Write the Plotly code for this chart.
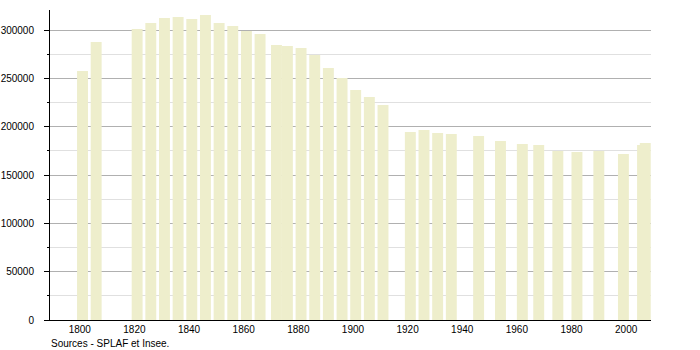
import plotly.graph_objects as go

years = [1801, 1806, 1821, 1826, 1831, 1836, 1841, 1846, 1851, 1856, 1861, 1866,
         1872, 1876, 1881, 1886, 1891, 1896, 1901, 1906, 1911, 1921, 1926, 1931,
         1936, 1946, 1954, 1962, 1968, 1975, 1982, 1990, 1999, 2006, 2007]
population = [257600, 287600, 301000, 307200, 312400, 313400, 311400, 315500,
              307200, 304100, 299000, 295900, 284500, 283500, 281400, 274100,
              260700, 250300, 237900, 230700, 222400, 194500, 196600, 193500,
              192400, 190300, 185200, 182100, 181000, 174800, 173800, 174800,
              171700, 181000, 183100]
x_ticks = [1800, 1820, 1840, 1860, 1880, 1900, 1920, 1940, 1960, 1980, 2000]
source_text = "Sources - SPLAF et Insee."

FONT = "Liberation Sans, Arial, sans-serif"

fig = go.Figure()
fig.add_trace(go.Bar(
    x=years, y=population, width=[4] * len(years),
    marker=dict(color="rgb(238,238,204)", line=dict(width=0)),
    hoverinfo="x+y", showlegend=False,
))

fig.update_layout(
    width=700, height=350,
    margin=dict(l=50, r=49, t=10, b=30, autoexpand=False),
    paper_bgcolor="white", plot_bgcolor="white",
    barmode="overlay",
    font=dict(family=FONT, size=10, color="black"),
    xaxis=dict(
        range=[1789.1, 2009.1], tickvals=x_ticks, ticktext=[str(v) for v in x_ticks],
        automargin=False,
        showgrid=False, zeroline=False, showline=True, linecolor="black", linewidth=1,
        ticks="", ticklabelstandoff=0, tickfont=dict(family=FONT, size=10, color="black"),
    ),
    yaxis=dict(
        range=[0, 320690], dtick=50000, tick0=0, tickformat="d",
        automargin=False,
        showgrid=True, gridcolor="rgb(176,176,176)", gridwidth=1,
        zeroline=False, showline=True, linecolor="black", linewidth=1,
        ticks="outside", ticklen=5, tickcolor="black", tickwidth=1,
        ticklabelstandoff=8,
        tickfont=dict(family=FONT, size=10, color="black"),
        minor=dict(dtick=25000, tick0=0, ticks="outside", ticklen=2, tickcolor="black",
                   showgrid=True, gridcolor="rgb(224,224,224)", gridwidth=1),
    ),
    annotations=[dict(
        text=source_text, xref="paper", yref="paper", x=0, y=-0.0968,
        xanchor="left", yanchor="bottom", showarrow=False, borderpad=0,
        font=dict(family=FONT, size=10, color="black"),
    )],
)

fig.write_html("out.html")
